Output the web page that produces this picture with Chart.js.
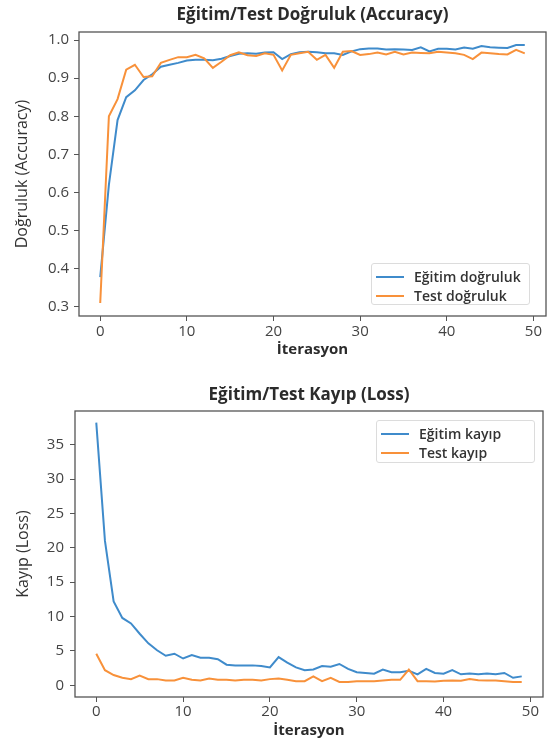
<!DOCTYPE html>
<html lang="tr">
<head>
  <meta charset="UTF-8" />
  <title>Eğitim/Test Doğruluk ve Kayıp</title>
  <script src="https://cdn.jsdelivr.net/npm/chart.js"></script>
  <style>
    * {
      box-sizing: border-box;
      margin: 0;
      padding: 0;
    }

    body {
      background: white;
      font-family: 'Open Sans', sans-serif;
    }

    .page {
      position: relative;
      width: 547px;
      height: 742px;
    }

    .chart-box {
      position: absolute;
      left: 0;
      width: 547px;
    }

    #box1 { top: 0; height: 370px; }
    #box2 { top: 370px; height: 372px; }

    .legend {
      position: absolute;
      border: 1px solid #dcdcdc;
      border-radius: 3px;
      background: rgba(255,255,255,0.85);
      padding: 3px 0 0 4px;
    }

    #legend1 { left: 371px; top: 263px; width: 159px; height: 42px; }
    #legend2 { left: 376px; top: 420px; width: 159px; height: 43px; }

    .legend-item {
      display: flex;
      align-items: center;
      height: 19px;
      font-size: 14px;
      font-weight: 600;
      color: #333;
    }

    .legend-line {
      width: 28px;
      height: 2px;
      margin-right: 10px;
    }
  </style>
</head>
<body>
  <div class="page">
    <div class="chart-box" id="box1"><canvas id="accChart"></canvas></div>
    <div class="chart-box" id="box2"><canvas id="lossChart"></canvas></div>
    <div class="legend" id="legend1"></div>
    <div class="legend" id="legend2"></div>
  </div>

<script>
  // iterasyon 0..49
  const iterations = [
    0, 1, 2, 3, 4, 5, 6, 7, 8, 9,
    10, 11, 12, 13, 14, 15, 16, 17, 18, 19,
    20, 21, 22, 23, 24, 25, 26, 27, 28, 29,
    30, 31, 32, 33, 34, 35, 36, 37, 38, 39,
    40, 41, 42, 43, 44, 45, 46, 47, 48, 49
  ];

  const trainAcc = [
    0.378, 0.62, 0.79, 0.85, 0.868, 0.895, 0.91, 0.93, 0.935, 0.94,
    0.946, 0.948, 0.948, 0.947, 0.951, 0.958, 0.964, 0.965, 0.964, 0.967,
    0.968, 0.95, 0.963, 0.968, 0.969, 0.968, 0.965, 0.965, 0.961, 0.97,
    0.976, 0.978, 0.978, 0.975, 0.976, 0.975, 0.974, 0.981, 0.97, 0.977,
    0.977, 0.975, 0.98, 0.977, 0.984, 0.981, 0.98, 0.979, 0.987, 0.987
  ];

  const testAcc = [
    0.31, 0.80, 0.845, 0.922, 0.935, 0.903, 0.905, 0.94, 0.948, 0.955,
    0.955, 0.961, 0.952, 0.927, 0.943, 0.96, 0.968, 0.96, 0.958, 0.965,
    0.961, 0.92, 0.961, 0.965, 0.969, 0.948, 0.961, 0.927, 0.969, 0.971,
    0.961, 0.963, 0.967, 0.962, 0.969, 0.962, 0.967, 0.966, 0.965, 0.969,
    0.967, 0.965, 0.961, 0.95, 0.967, 0.965, 0.963, 0.962, 0.974, 0.965
  ];

  const trainLoss = [
    38.2, 21.0, 12.2, 9.8, 9.0, 7.5, 6.1, 5.1, 4.3, 4.6,
    3.9, 4.4, 4.0, 4.0, 3.8, 3.0, 2.9, 2.9, 2.9, 2.8,
    2.6, 4.1, 3.3, 2.6, 2.2, 2.3, 2.8, 2.7, 3.1, 2.4,
    1.9, 1.8, 1.7, 2.3, 1.9, 1.9, 2.1, 1.6, 2.4, 1.8,
    1.7, 2.2, 1.6, 1.7, 1.6, 1.7, 1.6, 1.8, 1.1, 1.3
  ];

  const testLoss = [
    4.6, 2.2, 1.5, 1.1, 0.9, 1.4, 0.9, 0.9, 0.7, 0.7,
    1.1, 0.8, 0.7, 1.0, 0.8, 0.8, 0.7, 0.8, 0.8, 0.7,
    0.9, 1.0, 0.8, 0.6, 0.6, 1.3, 0.6, 1.1, 0.5, 0.5,
    0.6, 0.6, 0.6, 0.7, 0.8, 0.8, 2.3, 0.6, 0.6, 0.55,
    0.65, 0.7, 0.65, 0.9, 0.75, 0.7, 0.7, 0.6, 0.5, 0.5
  ];

  const xTicks = [0, 10, 20, 30, 40, 50];
  const accTicks = [0.3, 0.4, 0.5, 0.6, 0.7, 0.8, 0.9, 1.0];
  const lossTicks = [0, 5, 10, 15, 20, 25, 30, 35];

  const blue = '#3f8bcb';
  const orange = '#f8913a';
  const axisColor = '#555';
  const textColor = '#444';

  // kutu cizgisi (matplotlib gibi)
  const frame = {
    id: 'frame',
    afterDraw(chart) {
      const a = chart.chartArea;
      const ctx = chart.ctx;
      ctx.save();
      ctx.strokeStyle = axisColor;
      ctx.lineWidth = 1.3;
      ctx.strokeRect(a.left, a.top, a.right - a.left, a.bottom - a.top);
      ctx.restore();
    }
  };

  function toPoints(values) {
    return values.map((v, i) => ({ x: iterations[i], y: v }));
  }

  function makeChart(id, cfg) {
    const ctx = document.getElementById(id).getContext('2d');
    return new Chart(ctx, {
      type: 'line',
      data: {
        datasets: [
          { label: cfg.labels[0], data: toPoints(cfg.train), borderColor: blue, backgroundColor: blue, order: 1 },
          { label: cfg.labels[1], data: toPoints(cfg.test), borderColor: orange, backgroundColor: orange, order: 0 }
        ]
      },
      options: {
        responsive: true,
        maintainAspectRatio: false,
        animation: false,
        elements: {
          point: { radius: 0 },
          line: { borderWidth: 2, tension: 0 }
        },
        layout: { padding: { left: 0, right: cfg.padRight, top: 0, bottom: 0 } },
        plugins: {
          legend: { display: false },
          tooltip: { enabled: false },
          title: {
            display: true,
            text: cfg.title,
            fullSize: false,
            color: '#2b2b2b',
            font: { family: 'Open Sans', size: 17, weight: 'bold', lineHeight: 1.2 },
            padding: cfg.titlePad
          }
        },
        scales: {
          x: {
            type: 'linear',
            min: -2.45,
            max: 51.45,
            afterBuildTicks: axis => { axis.ticks = xTicks.map(v => ({ value: v })); },
            afterFit: axis => { axis.height = cfg.xHeight; },
            border: { display: false },
            grid: { drawOnChartArea: false, drawTicks: true, tickLength: 5, color: axisColor },
            ticks: { color: textColor, font: { family: 'Open Sans', size: 15 }, padding: cfg.xTickPad },
            title: {
              display: true,
              text: 'İterasyon',
              color: '#2b2b2b',
              font: { family: 'Open Sans', size: 15, weight: 'bold', lineHeight: 1.2 },
              padding: { top: 0, bottom: cfg.xTitlePad }
            }
          },
          y: {
            min: cfg.yMin,
            max: cfg.yMax,
            afterBuildTicks: axis => { axis.ticks = cfg.yTicks.map(v => ({ value: v })); },
            afterFit: axis => { axis.width = cfg.yWidth; },
            border: { display: false },
            grid: { drawOnChartArea: false, drawTicks: true, tickLength: 5, color: axisColor },
            ticks: {
              color: textColor,
              font: { family: 'Open Sans', size: 15 },
              padding: cfg.yTickPad,
              callback: cfg.fmt
            },
            title: {
              display: true,
              text: cfg.yTitle,
              color: '#333',
              font: { family: 'Open Sans', size: 16, lineHeight: 1.2 },
              padding: { top: cfg.yTitlePad, bottom: 0 }
            }
          }
        }
      },
      plugins: [frame]
    });
  }

  function htmlLegend(chart, boxId) {
    const box = document.getElementById(boxId);
    chart.data.datasets.forEach(ds => {
      const row = document.createElement('div');
      row.className = 'legend-item';
      const line = document.createElement('span');
      line.className = 'legend-line';
      line.style.background = ds.borderColor;
      const txt = document.createElement('span');
      txt.textContent = ds.label;
      row.appendChild(line);
      row.appendChild(txt);
      box.appendChild(row);
    });
  }

  const accChart = makeChart('accChart', {
    labels: ['Eğitim doğruluk', 'Test doğruluk'],
    train: trainAcc,
    test: testAcc,
    title: 'Eğitim/Test Doğruluk (Accuracy)',
    titlePad: { top: 4.8, bottom: 6.8 },
    yTitle: 'Doğruluk (Accuracy)',
    yTicks: accTicks,
    yMin: 0.276,
    yMax: 1.021,
    fmt: v => v.toFixed(1),
    padRight: 1,
    xHeight: 54,
    yWidth: 79,
    xTickPad: 2,
    xTitlePad: 11,
    yTickPad: 5,
    yTitlePad: 13
  });

  const lossChart = makeChart('lossChart', {
    labels: ['Eğitim kayıp', 'Test kayıp'],
    train: trainLoss,
    test: testLoss,
    title: 'Eğitim/Test Kayıp (Loss)',
    titlePad: { top: 14.8, bottom: 5.8 },
    yTitle: 'Kayıp (Loss)',
    yTicks: lossTicks,
    yMin: -1.7,
    yMax: 39.9,
    fmt: v => v,
    padRight: 4,
    xHeight: 45,
    yWidth: 75,
    xTickPad: 1,
    xTitlePad: 2,
    yTickPad: 6,
    yTitlePad: 14
  });

  htmlLegend(accChart, 'legend1');
  htmlLegend(lossChart, 'legend2');
</script>
</body>
</html>
